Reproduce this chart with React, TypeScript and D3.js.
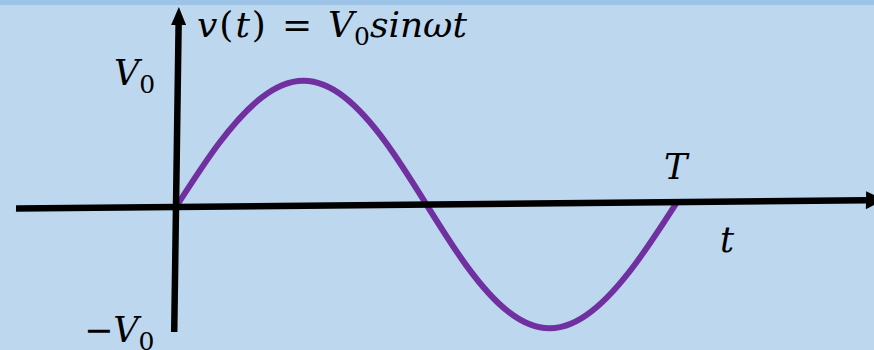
import React from "react";
import * as d3 from "d3";

const W = 874;
const H = 350;

// phase (fraction of period T) and normalised voltage v/V0
const phases = [0, 0.083, 0.167, 0.25, 0.333, 0.417, 0.5, 0.583, 0.667, 0.75, 0.833, 0.917, 1];
const values = [0, 0.5, 0.866, 1, 0.866, 0.5, 0, -0.5, -0.866, -1, -0.866, -0.5, 0];

const yTickLabels = ["V", "−V"];
const xLabels = ["T", "t"];

const BG = "#BDD7EE";
const BAND = "#9DC3E6";
const PURPLE = "#7030A0";
const FONT = "'DejaVu Serif', serif";

export default function App() {
  const x = d3.scaleLinear().domain([0, 1]).range([176, 677]);
  const y = d3.scaleLinear().domain([-1, 1]).range([332, 82]);
  const x0 = x(0);
  const y0 = y(0);
  const kx = -0.0143;
  const ky = -0.0098;
  const skew = `matrix(1 ${ky} ${kx} 1 ${-kx * y0} ${-ky * x0})`;

  const line = d3
    .line<number>()
    .x((_, i) => x(phases[i]))
    .y((d) => y(d))
    .curve(d3.curveNatural);

  const axisLeft = 16;
  const hTip = 884;
  const hBase = 866;
  const vTop = 7;
  const vBase = 25;
  const vBottom = 332;

  return (
    <svg
      width={W}
      height={H}
      style={{ position: "fixed", left: 0, top: 0, display: "block" }}
    >
      <rect x={0} y={0} width={W} height={H} fill={BG} />
      <rect x={0} y={0} width={W} height={5} fill={BAND} />
      <g transform={skew}>
        <path d={line(values) || ""} fill="none" stroke={PURPLE} strokeWidth={6} strokeLinecap="butt" />
        <line x1={axisLeft} y1={y0} x2={hBase} y2={y0} stroke="#000" strokeWidth={6.5} />
        <path d={`M${hTip},${y0} L${hBase},${y0 - 9} L${hBase},${y0 + 9} Z`} fill="#000" />
        <line x1={x0} y1={vBottom} x2={x0} y2={vBase} stroke="#000" strokeWidth={6.5} />
        <path d={`M${x0},${vTop} L${x0 - 7.5},${vBase} L${x0 + 7.5},${vBase} Z`} fill="#000" />
      </g>
      <g fontFamily={FONT} fill="#000">
        <text x={197} y={37} fontSize={36}>
          <tspan fontStyle="italic">v</tspan>
          <tspan dx={2}>(</tspan>
          <tspan dx={2} fontStyle="italic">t</tspan>
          <tspan dx={2}>)</tspan>
          <tspan x={282}>=</tspan>
          <tspan x={328} fontStyle="italic">V</tspan>
          <tspan fontSize={25} dy={8}>0</tspan>
          <tspan fontStyle="italic" dy={-8}>sinωt</tspan>
        </text>
        <text x={114} y={85} fontSize={35}>
          <tspan fontStyle="italic">{yTickLabels[0]}</tspan>
          <tspan fontSize={25} dy={8}>0</tspan>
        </text>
        <text x={84} y={342} fontSize={35}>
          <tspan>−</tspan>
          <tspan fontStyle="italic">{yTickLabels[1].slice(1)}</tspan>
          <tspan fontSize={25} dy={8}>0</tspan>
        </text>
        <text x={664} y={179} fontSize={35} fontStyle="italic">{xLabels[0]}</text>
        <text x={720} y={252} fontSize={35} fontStyle="italic">{xLabels[1]}</text>
      </g>
    </svg>
  );
}
